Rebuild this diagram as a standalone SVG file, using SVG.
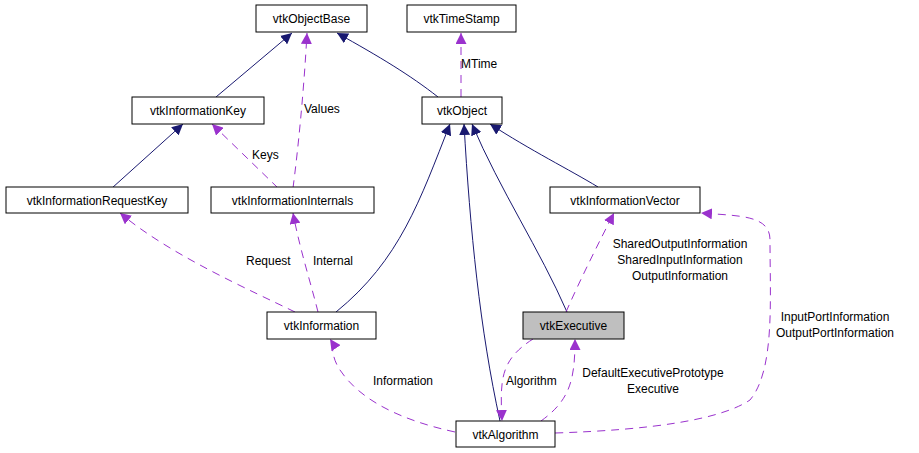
<svg xmlns="http://www.w3.org/2000/svg" width="919" height="453" viewBox="0 0 919 453">
<style>
rect.n{fill:#fff;stroke:#000;stroke-width:1}
text{font-family:"Liberation Sans",Arial,sans-serif;font-size:12px;fill:#000}
.t{text-anchor:middle}
.inh{fill:none;stroke:#191970;stroke-width:1}
.use{fill:none;stroke:#9a32cd;stroke-width:1;stroke-dasharray:8,6}
</style>
<defs>
<marker id="a1" viewBox="0 0 10 10" refX="10" refY="5" markerWidth="11" markerHeight="11" markerUnits="userSpaceOnUse" orient="auto"><path d="M0,0L10,5L0,10z" fill="#191970"/></marker>
<marker id="a2" viewBox="0 0 10 10" refX="10" refY="5" markerWidth="11" markerHeight="11" markerUnits="userSpaceOnUse" orient="auto"><path d="M0,0L10,5L0,10z" fill="#9a32cd"/></marker>
</defs>
<rect width="919" height="453" fill="#fff"/>
<g id="edges">
<path class="inh" marker-end="url(#a1)" d="M216,97L292,33"/>
<path class="inh" marker-end="url(#a1)" d="M438,97C410,75 380,57 337,33"/>
<path class="inh" marker-end="url(#a1)" d="M112,188L183,124"/>
<path class="inh" marker-end="url(#a1)" d="M336,312C400,260 420,200 450,124"/>
<path class="inh" marker-end="url(#a1)" d="M500,421C480,330 470,230 464,124"/>
<path class="inh" marker-end="url(#a1)" d="M567,312C540,250 500,190 472,124"/>
<path class="inh" marker-end="url(#a1)" d="M598,187C570,170 530,150 490,124"/>
<path class="use" marker-end="url(#a2)" d="M461,97L461,33"/>
<path class="use" marker-end="url(#a2)" d="M293,188C298,150 304,90 307,33"/>
<path class="use" marker-end="url(#a2)" d="M278,188L212,124"/>
<path class="use" marker-end="url(#a2)" d="M295,312C250,290 170,255 120,213"/>
<path class="use" marker-end="url(#a2)" d="M318,312C310,280 300,250 293,213"/>
<path class="use" marker-end="url(#a2)" d="M566,312C580,280 600,240 614,213"/>
<path class="use" marker-end="url(#a2)" d="M455,432C400,420 360,400 340,370C330,355 334,345 330,339"/>
<path class="use" marker-end="url(#a2)" d="M533,339C500,360 500,380 502,421"/>
<path class="use" marker-end="url(#a2)" d="M541,421C570,400 575,380 575,339"/>
<path class="use" marker-end="url(#a2)" d="M555,433C650,430 720,420 750,400C775,370 770,300 770,240C770,215 740,216 701,213"/>
</g>
<g id="vtkObjectBase"><rect class="n" x="256" y="5" width="111" height="27"/><text class="t" x="311.5" y="23">vtkObjectBase</text></g>
<g id="vtkTimeStamp"><rect class="n" x="407" y="5" width="109" height="27"/><text class="t" x="461.5" y="23">vtkTimeStamp</text></g>
<g id="vtkInformationKey"><rect class="n" x="132" y="97" width="132" height="27"/><text class="t" x="198" y="115">vtkInformationKey</text></g>
<g id="vtkObject"><rect class="n" x="422" y="97" width="80" height="27"/><text class="t" x="462" y="115">vtkObject</text></g>
<g id="vtkInformationRequestKey"><rect class="n" x="6" y="187" width="182" height="26"/><text class="t" x="97" y="205">vtkInformationRequestKey</text></g>
<g id="vtkInformationInternals"><rect class="n" x="211" y="187" width="163" height="26"/><text class="t" x="292.5" y="205">vtkInformationInternals</text></g>
<g id="vtkInformationVector"><rect class="n" x="550" y="187" width="150" height="26"/><text class="t" x="625" y="205">vtkInformationVector</text></g>
<g id="vtkInformation"><rect class="n" x="267" y="312" width="109" height="27"/><text class="t" x="321.5" y="330">vtkInformation</text></g>
<g id="vtkExecutive"><rect class="n" x="523" y="312" width="101" height="27" style="fill:#bfbfbf"/><text class="t" x="573.5" y="330">vtkExecutive</text></g>
<g id="vtkAlgorithm"><rect class="n" x="456" y="421" width="99" height="26"/><text class="t" x="505.5" y="439">vtkAlgorithm</text></g>
<g id="labels">
<text x="461" y="68">MTime</text>
<text x="304" y="113">Values</text>
<text x="252" y="159">Keys</text>
<text x="246" y="265">Request</text>
<text x="313" y="265">Internal</text>
<text class="t" x="680" y="248">SharedOutputInformation</text>
<text class="t" x="680" y="264">SharedInputInformation</text>
<text class="t" x="680" y="280">OutputInformation</text>
<text class="t" x="835" y="321">InputPortInformation</text>
<text class="t" x="835" y="337">OutputPortInformation</text>
<text x="373" y="385">Information</text>
<text x="506" y="385">Algorithm</text>
<text class="t" x="653" y="377">DefaultExecutivePrototype</text>
<text class="t" x="653" y="393">Executive</text>
</g>
</svg>
